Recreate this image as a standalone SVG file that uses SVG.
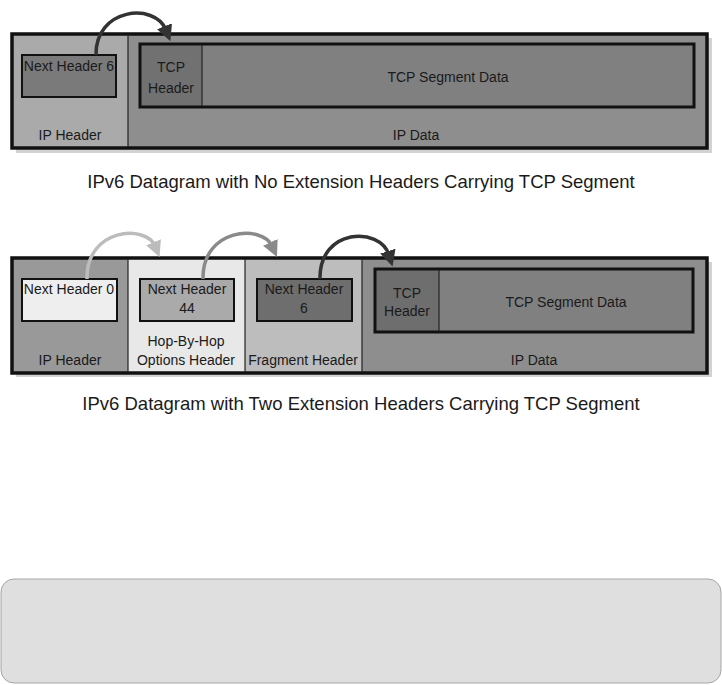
<svg xmlns="http://www.w3.org/2000/svg" width="722" height="685" viewBox="0 0 722 685">
<style>
text{font-family:"Liberation Sans",Arial,sans-serif;fill:#1a1a1a;text-anchor:middle}
.lbl{font-size:14px}
.cap{font-size:18.5px}
.outer{stroke:#111;stroke-width:3.5}
.inner{stroke:#111;stroke-width:3}
.box{stroke:#111;stroke-width:2}
.div{stroke:#222;stroke-width:1.2}
.shadow{fill:#d2d2d2}
.arc{fill:none;stroke-width:3.5}
</style>
<defs>
<marker id="ahDark" markerUnits="userSpaceOnUse" markerWidth="20" markerHeight="20" refX="4" refY="8" orient="auto" viewBox="0 0 20 16"><path d="M0,0 L16,8 L0,16 Z" fill="#333"/></marker>
<marker id="ahMid" markerUnits="userSpaceOnUse" markerWidth="20" markerHeight="20" refX="4" refY="8" orient="auto" viewBox="0 0 20 16"><path d="M0,0 L16,8 L0,16 Z" fill="#8a8a8a"/></marker>
<marker id="ahLight" markerUnits="userSpaceOnUse" markerWidth="20" markerHeight="20" refX="4" refY="8" orient="auto" viewBox="0 0 20 16"><path d="M0,0 L16,8 L0,16 Z" fill="#bcbcbc"/></marker>
</defs>

<!-- Top diagram -->
<g id="top-datagram">
<rect class="shadow" x="16" y="38" width="696" height="115"/>
<rect x="12" y="34" width="116" height="114" fill="#aaaaaa"/>
<rect x="128" y="34" width="579" height="114" fill="#8e8e8e"/>
<rect class="outer" x="12" y="34" width="695" height="114" fill="none"/>
<line class="div" x1="128" y1="35" x2="128" y2="147"/>
<text class="lbl" x="70" y="140">IP Header</text>
<text class="lbl" x="416" y="140">IP Data</text>
</g>
<g id="top-nextheader">
<rect class="box" x="22" y="55" width="94" height="42" fill="#7a7a7a"/>
<text class="lbl" x="69" y="71">Next Header 6</text>
</g>
<g id="top-tcp">
<rect x="140" y="44" width="62" height="63" fill="#717171"/>
<rect x="202" y="44" width="492" height="63" fill="#808080"/>
<rect class="inner" x="140" y="44" width="554" height="63" fill="none"/>
<line class="div" x1="202" y1="45" x2="202" y2="106"/>
<text class="lbl" x="171" y="72">TCP</text>
<text class="lbl" x="171" y="93">Header</text>
<text class="lbl" x="448" y="82">TCP Segment Data</text>
</g>
<text class="cap" x="361" y="188">IPv6 Datagram with No Extension Headers Carrying TCP Segment</text>

<!-- Bottom diagram -->
<g id="bottom-datagram">
<rect class="shadow" x="16" y="262" width="696" height="115"/>
<rect x="12" y="258" width="116" height="115" fill="#999999"/>
<rect x="128" y="258" width="117" height="115" fill="#e8e8e8"/>
<rect x="245" y="258" width="117" height="115" fill="#bdbdbd"/>
<rect x="362" y="258" width="345" height="115" fill="#8e8e8e"/>
<rect class="outer" x="12" y="258" width="695" height="115" fill="none"/>
<line class="div" x1="128" y1="259" x2="128" y2="372"/>
<line class="div" x1="245" y1="259" x2="245" y2="372"/>
<line class="div" x1="362" y1="259" x2="362" y2="372"/>
<text class="lbl" x="70" y="365">IP Header</text>
<text class="lbl" x="534" y="365">IP Data</text>
</g>
<g id="bottom-ipheader">
<rect class="box" x="22" y="279" width="95" height="42" fill="#eeeeee"/>
<text class="lbl" x="69" y="294">Next Header 0</text>
</g>
<g id="bottom-hopbyhop">
<rect class="box" x="140" y="279" width="94" height="42" fill="#aaaaaa"/>
<text class="lbl" x="187" y="294">Next Header</text>
<text class="lbl" x="187" y="313">44</text>
<text class="lbl" x="186" y="346">Hop-By-Hop</text>
<text class="lbl" x="186" y="365">Options Header</text>
</g>
<g id="bottom-fragment">
<rect class="box" x="257" y="279" width="95" height="42" fill="#6e6e6e"/>
<text class="lbl" x="304" y="294">Next Header</text>
<text class="lbl" x="304" y="313">6</text>
<text class="lbl" x="303" y="365">Fragment Header</text>
</g>
<g id="bottom-tcp">
<rect x="375" y="269" width="64" height="63" fill="#6e6e6e"/>
<rect x="439" y="269" width="254" height="63" fill="#808080"/>
<rect class="inner" x="375" y="269" width="318" height="63" fill="none"/>
<line class="div" x1="439" y1="270" x2="439" y2="331"/>
<text class="lbl" x="407" y="298">TCP</text>
<text class="lbl" x="407" y="316">Header</text>
<text class="lbl" x="566" y="307">TCP Segment Data</text>
</g>
<text class="cap" x="361" y="410">IPv6 Datagram with Two Extension Headers Carrying TCP Segment</text>

<!-- Connectors -->
<g id="connectors">
<path class="arc" stroke="#333" d="M96,55 C95,8 155,2 166,30" marker-end="url(#ahDark)"/>
<path class="arc" stroke="#bcbcbc" d="M87,279 C86,228 146,224 155,246" marker-end="url(#ahLight)"/>
<path class="arc" stroke="#8a8a8a" d="M203,279 C202,228 262,224 272,246" marker-end="url(#ahMid)"/>
<path class="arc" stroke="#333" d="M320,279 C319,228 380,226 389,255" marker-end="url(#ahDark)"/>
</g>

<!-- Bottom panel -->
<rect id="panel" x="1" y="579" width="720" height="104" rx="13" fill="#dfdfdf" stroke="#a6a6a6" stroke-width="1"/>
</svg>
